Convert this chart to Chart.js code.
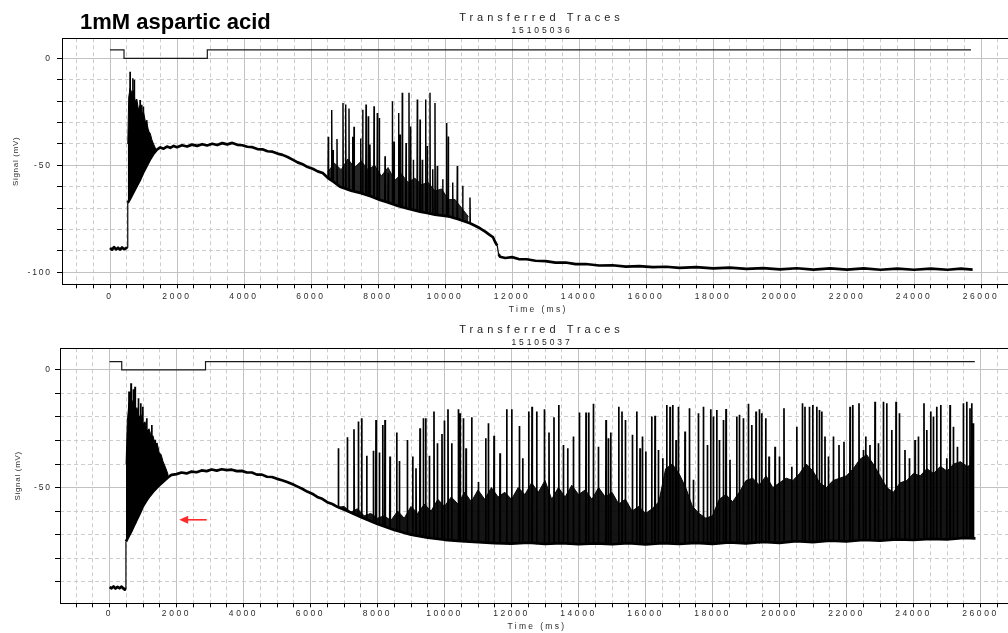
<!DOCTYPE html>
<html><head><meta charset="utf-8">
<script src="https://cdn.jsdelivr.net/npm/chart.js@4/dist/chart.umd.min.js"></script>
<style>
html,body{margin:0;padding:0;background:#fff;overflow:hidden;width:1008px;height:633px;}
#wrap{position:relative;width:1008px;height:633px;overflow:hidden;background:#fff;}
canvas{position:absolute;left:0;}
#cA{top:0;} #cB{top:320px;}
</style></head><body>
<div id="wrap"><canvas id="cA" width="1030" height="320"></canvas><canvas id="cB" width="1030" height="313"></canvas></div>
<script>
// ---------------- text ----------------
const MAIN_TITLE = '1mM aspartic acid';
const PANEL_TITLE = 'Transferred Traces';
const SWEEP_A = '15105036';
const SWEEP_B = '15105037';
const X_TITLE = 'Time (ms)';
const Y_TITLE = 'Signal (mV)';

// ---------------- tick labels ----------------
const xLabels = [0,2000,4000,6000,8000,10000,12000,14000,16000,18000,20000,22000,24000,26000];
const yLabelsA = [0,-50,-100];
const yLabelsB = [0,-50];

// ---------------- panel A (15105036) ----------------
const stimA_t = [0,418,418,2905,2905,25700];
const stimA_v = [4,4,0,0,4,4];

const slowA_t = [0,60,120,180,240,300,360,420,480,510,530,600,700,800,900,1000,1100,1200,1300,1400,1500,1600,1700,1800,1900,2000,2150,2300,2450,2600,2750,2900,3050,3200,3350,3500,3650,3800,3950,4100,4250,4400,4550,4700,4850,5000,5150,5300,5450,5600,5750,5900,6050,6200,6350,6500,6700,6866,7200,7500,7800,8060,8300,8600,8900,9254,9500,9700,10000,10149,10400,10746,10900,11045,11200,11343,11430,11493,11560,11600,11640,11800,12000,12200,12438,12700,13000,13300,13600,13900,14200,14600,15000,15400,15800,16200,16600,17000,17500,18000,18500,19000,19500,20000,20500,21000,21500,22000,22500,23000,23500,24000,24500,25000,25400,25750];
const slowA_v = [-88.6,-89.4,-88.2,-89.3,-88.5,-89.4,-88.4,-89.2,-88.7,-88.3,-67.5,-65.5,-62.5,-59.5,-56.5,-53,-50,-47,-44.5,-42.6,-41.6,-42.2,-41.2,-41.8,-40.9,-41.5,-40.6,-41.2,-40.3,-40.9,-40.1,-40.7,-39.9,-40.5,-39.6,-40.2,-39.5,-40.4,-40.6,-41.3,-41.5,-42.4,-42.5,-43.4,-43.6,-44.5,-45.1,-46.1,-47.3,-48.6,-49.5,-50.8,-51.6,-52.8,-53.6,-55.8,-58,-60,-61.8,-63,-64.5,-66.2,-67.3,-69,-70.3,-71.6,-72.4,-73,-73.6,-74,-75.2,-77.1,-78.2,-79.4,-81,-82.6,-83.5,-85.7,-87.5,-91.5,-92.7,-93.3,-92.9,-93.8,-93.9,-94.6,-94.8,-95.5,-95.4,-96.2,-96.1,-96.8,-96.7,-97.3,-97.1,-97.6,-97.4,-97.9,-97.6,-98.2,-97.8,-98.4,-98.0,-98.6,-98.1,-98.7,-98.2,-98.7,-98.2,-98.8,-98.3,-98.8,-98.3,-98.8,-98.3,-98.7];

const spkA_t = [597,677,726,796,896,945,995,1094,1144,1194,6516,6618,6657,6776,6955,7036,7134,7245,7284,7484,7543,7642,7710,7761,7881,7979,8039,8209,8307,8427,8478,8618,8657,8725,8836,8925,8976,9054,9173,9254,9322,9424,9472,9552,9633,9701,9770,9931,10051,10099,10230,10367,10528,10746];
const spkA_peak = [-6.2,-9.3,-10,-25.6,-19.4,-21.7,-22.5,-28.8,-33.4,-36.6,-36.6,-24.1,-42.8,-37.7,-20.8,-21.6,-23.4,-36.6,-31.9,-37.4,-24,-21.6,-27,-40.3,-22.4,-25.5,-27.9,-45.7,-53.5,-20,-38.8,-25.5,-35.6,-16.1,-39.5,-16.1,-31.8,-47.4,-19.2,-28.6,-47.4,-19.2,-41,-16.1,-51.8,-20.8,-50.3,-56.5,-30.2,-36.5,-58,-50.3,-59.5,-65];
const spkA_base = [-66,-63,-62,-60,-57,-55,-53,-50,-48,-47,-56,-57,-57.5,-59,-60.5,-61,-61.5,-62,-62,-63,-63,-63.5,-64,-64,-65,-65.5,-66,-66.5,-67,-68,-68,-69,-69,-69.5,-70,-70.5,-70.5,-71,-71.3,-71.6,-72,-72.2,-72.3,-72.5,-72.8,-73,-73.2,-73.5,-73.8,-74,-74.5,-75,-76,-77];

// upper edge of the dense black mass (filled down to the slow trace)
const bodyA1_t  = [530,560,600,650,700,750,800,850,900,950,1000,1050,1100,1150,1200,1250,1300,1370];
const bodyA1_hi = [-40,-18,-14,-16,-15,-20,-19,-24,-22,-26,-25,-29,-30,-34,-35,-38,-40,-42.5];
const bodyA2_t  = [6500,6700,6900,7100,7300,7500,7700,7900,8100,8300,8500,8700,8900,9100,9300,9500,9700,9900,10100,10300,10500,10700];
const bodyA2_hi = [-53,-49,-52,-47,-51,-48,-52,-50,-55,-51,-57,-54,-58,-56,-59,-58,-62,-61,-66,-66,-70,-74];

// ---------------- panel B (15105037) ----------------
const stimB_t = [0,365,365,2866,2866,25830];
const stimB_v = [3.5,3.5,0,0,3.5,3.5];

const slowB_t = [0,60,120,180,240,300,360,420,455,475,490,560,650,711,800,900,990,1100,1200,1300,1450,1600,1750,1850,2000,2150,2300,2450,2600,2750,2900,3050,3200,3350,3500,3650,3800,3950,4100,4250,4400,4550,4700,4850,5000,5150,5300,5450,5600,5750,5900,6050,6200,6350,6500,6650,6800,7100,7500,8000,8500,9000,9500,10000,10500,11000,11500,12000,12500,13000,13500,14000,14500,15000,15500,16000,16500,17000,17500,18000,18500,19000,19500,20000,20500,21000,21500,22000,22500,23000,23500,24000,24500,25000,25500,25850];
const slowB_v = [-92.3,-92.8,-92.0,-92.9,-92.2,-92.8,-92.1,-93.0,-93.4,-92.5,-73,-71,-68.5,-66.6,-64,-61,-58.1,-55.5,-53.5,-51.7,-49.5,-47.5,-45.6,-44.6,-44.3,-43.6,-44.0,-43.2,-43.5,-42.7,-43.0,-42.3,-42.8,-42.2,-42.6,-42.4,-43.0,-42.9,-43.6,-43.6,-44.5,-44.5,-45.4,-45.5,-46.3,-46.9,-47.6,-48.5,-49.5,-50.5,-51.7,-52.6,-54.0,-54.8,-56.2,-57.0,-58.2,-60,-62.5,-65.5,-68,-70,-71.3,-72.2,-72.8,-73.2,-73.6,-73.8,-73.4,-74.0,-73.6,-74.1,-73.7,-74.1,-73.6,-74.2,-73.6,-74.0,-73.5,-73.9,-73.3,-73.7,-73.1,-73.5,-72.8,-73.2,-72.6,-72.9,-72.3,-72.6,-72.0,-72.3,-71.8,-72.0,-71.4,-71.6];

const spkB_t = [513,582,642,711,761,861,930,990,1109,1259,1358,1458,1557,
 6831,7099,7298,7428,7527,7677,7876,7955,8055,8154,8224,8373,8572,8652,8890,9050,9149,9269,9368,9438,9547,9686,9786,9925,9995,10104,10214,10413,10463,10562,10642,10811,11010,11229,11308,11478,11657,11856,12005,12234,12333,12512,12612,12751,12980,13119,13268,13408,13547,13676,13846,14025,14224,14303,14443,14592,14821,14890,14960,15199,15298,15398,
 15607,15737,15836,15906,16005,16184,16284,16383,16513,16632,16732,16811,16911,16980,17179,17309,17428,17577,17727,17846,17945,18025,18125,18204,18324,18403,18522,18722,18801,18920,19070,19169,19299,19398,19468,19587,19687,19866,19995,20134,20363,20513,20682,20761,20891,20990,21110,21189,21259,21358,21458,21607,21776,21925,22105,22184,22373,22503,22572,22701,22851,22950,23100,23199,23348,23478,23577,23746,23876,24045,24144,24313,24393,24512,24592,24691,24811,24990,25090,25189,25308,25487,25587,25686,25736,25786];
const spkB_peak = [-32.6,-9.2,-5.7,-8.2,-7.1,-12,-14.2,-15.6,-20.5,-23.4,-29.7,-38.2,-40.4,
 -33.3,-28.6,-25.2,-21.9,-20.5,-36.5,-34.3,-21.3,-35.1,-23.4,-21.3,-36.8,-26.6,-38.7,-29.8,-36.8,-41.8,-24.8,-20.5,-20.5,-36.5,-17.7,-31.2,-27.2,-21.5,-16.7,-31.2,-16.7,-18.4,-20.5,-33.3,-20.1,-47.6,-29.0,-22.7,-28.0,-35.4,-16.7,-16.7,-23.8,-37.5,-17.7,-15.6,-17.7,-16.7,-26.6,-20.1,-14.9,-31.9,-33.3,-28.3,-18.1,-18.1,-18.1,-14.4,-32.6,-21.3,-29.0,-26.6,-15.6,-17.7,-21.3,
 -27.6,-17.7,-33.3,-28.3,-34.7,-19.8,-19.5,-34.0,-37.5,-14.9,-15.6,-14.9,-29.8,-15.6,-26.2,-16.3,-46.7,-18.4,-15.6,-31.9,-16.7,-19.8,-17.0,-29.8,-21.3,-16.6,-38.2,-19.8,-19.1,-20.5,-14.4,-23.4,-17.7,-16.7,-18.4,-20.5,-36.8,-32.6,-36.8,-16.3,-41.1,-24.1,-14.2,-15.6,-15.6,-14.9,-15.6,-17.0,-17.7,-28.3,-36.8,-28.3,-31.9,-30.5,-15.6,-14.9,-14.2,-34.0,-28.3,-31.9,-13.5,-31.2,-13.5,-14.2,-25.5,-13.5,-18.4,-34.0,-37.5,-29.8,-28.3,-14.2,-25.5,-17.7,-19.8,-15.6,-14.9,-37.5,-14.9,-24.1,-32.6,-14.2,-13.5,-16.3,-14.2,-22.7];
const spkB_base = [-72,-70,-68.5,-66.6,-65.5,-62,-60,-58,-55.5,-52.5,-51,-49.5,-48,
 -58.5,-60,-61,-62,-62.5,-63.5,-64.5,-65,-65.5,-66,-66.5,-67.5,-68.3,-68.6,-69.5,-70.2,-70.5,-70.9,-71.1,-71.2,-71.4,-71.7,-71.9,-72.1,-72.2,-72.3,-72.4,-72.7,-72.8,-72.9,-73,-73.1,-73.2,-73.4,-73.4,-73.6,-73.6,-73.7,-73.8,-73.6,-73.5,-73.4,-73.6,-73.8,-74,-73.9,-73.7,-73.6,-73.7,-73.9,-74,-74.1,-73.9,-73.8,-73.7,-73.8,-74,-74.1,-74.1,-73.9,-73.8,-73.7,
 -73.7,-73.8,-73.9,-74,-74.1,-74,-73.9,-73.8,-73.7,-73.6,-73.7,-73.8,-73.9,-74,-73.8,-73.7,-73.6,-73.5,-73.6,-73.7,-73.8,-73.9,-73.8,-73.7,-73.6,-73.5,-73.4,-73.5,-73.6,-73.5,-73.4,-73.3,-73.4,-73.5,-73.4,-73.3,-73.2,-73.3,-73.4,-73.2,-73.1,-73.0,-72.9,-73.0,-73.1,-73.1,-73.0,-72.9,-72.8,-72.8,-72.7,-72.7,-72.8,-72.7,-72.6,-72.5,-72.5,-72.4,-72.4,-72.3,-72.4,-72.3,-72.2,-72.1,-72.2,-72.1,-72.2,-72.3,-72.2,-72.1,-72.0,-72.0,-71.9,-71.9,-71.8,-71.9,-71.8,-71.9,-71.8,-71.7,-71.6,-71.5,-71.5,-71.4,-71.5,-71.6];

const bodyB1_t  = [495,530,580,640,700,760,820,880,940,1000,1060,1120,1180,1240,1300,1360,1420,1480,1540,1600,1660,1750];
const bodyB1_hi = [-40,-22,-14,-16,-13,-17,-16,-20,-19,-23,-22,-26,-25,-28,-28,-32,-31,-35,-36,-39,-41,-44.5];
const bodyB2_t  = [6800,7000,7200,7400,7600,7800,8000,8200,8400,8600,8800,9000,9200,9400,9600,9800,10000,10200,10400,10600,10800,11000,11200,11400,11600,11800,12000,12200,12400,12600,12800,13000,13200,13400,13600,13800,14000,14200,14400,14600,14800,15000,15200,15400,15600,15800,16000,16200,16400,16600,16800,17000,17200,17400,17600,17800,18000,18200,18400,18600,18800,19000,19200,19400,19600,19800,20000,20200,20400,20600,20800,21000,21200,21400,21600,21800,22000,22200,22400,22600,22800,23000,23200,23400,23600,23800,24000,24200,24400,24600,24800,25000,25200,25400,25600,25800];
const bodyB2_hi = [-58.5,-58,-60.5,-59,-62,-61,-63,
 -62,-64,-60,-63,-58,-61,-57,-60,-55,-58,
 -54,-57,-52,-56,-51,-55,-50,-54,-52,-55,
 -50,-53,-48,-52,-47,-55,-50,-54,-49,-53,
 -51,-55,-50,-54,-52,-57,-55,-60,-58,-61,
 -59,-56,-42,-40,-44,-50,-58,-61,-63,-62,
 -55,-53,-56,-52,-47,-46,-49,-45,-50,-48,
 -46,-47,-44,-40,-43,-48,-50,-47,-46,-45,
 -42,-38,-36,-40,-45,-50,-52,-48,-47,-44,
 -45,-42,-44,-41,-43,-40,-39,-41,-40];

// red arrow annotation (data units: ms, mV)
const arrowB = { fromX: 2900, toX: 2080, y: -63.7 };

// ---------------- helpers ----------------
const FONT = '"Liberation Sans", Arial, Helvetica, sans-serif';
Chart.defaults.font.family = FONT;
function zip(t, v) {
  if (t.length !== v.length) console.error('length mismatch', t.length, v.length);
  return t.map((x, i) => ({ x, y: v[i] }));
}
function spikes(t, peak, base, w) {
  if (t.length !== peak.length || t.length !== base.length) console.error('spike mismatch', t.length, peak.length, base.length);
  const out = [];
  t.forEach((x, i) => {
    out.push({ x: x - w, y: base[i] }, { x, y: peak[i] }, { x: x + w, y: base[i] }, { x: x + w, y: null });
  });
  return out;
}
function stepTicks(from, to, step) { const a = []; for (let v = from; v <= to + 1e-9; v += step) a.push(v); return a; }

const BaseLinear = Chart.LinearScale || Chart.registry.getScale('linear');
class SpacedLinear extends BaseLinear {
  _sp(kind, fn) {
    const c = this.ctx;
    const sp = this.options.spacing ? this.options.spacing[kind] : null;
    const has = ('letterSpacing' in c);
    const prev = has ? c.letterSpacing : null;
    if (has && sp) c.letterSpacing = sp;
    fn();
    if (has) c.letterSpacing = prev;
  }
  drawLabels(area) { this._sp('ticks', () => super.drawLabels(area)); }
  drawTitle() { this._sp('title', () => super.drawTitle()); }
}
SpacedLinear.id = 'spacedLinear';
SpacedLinear.defaults = BaseLinear.defaults;
Chart.register(SpacedLinear);

const textPlugin = {
  id: 'panelText',
  afterDraw(chart, args, o) {
    const ctx = chart.ctx;
    (o.items || []).forEach(it => {
      ctx.save();
      ctx.font = it.font; ctx.fillStyle = it.color; ctx.textAlign = it.align; ctx.textBaseline = 'alphabetic';
      if ('letterSpacing' in ctx) ctx.letterSpacing = it.spacing || '0px';
      ctx.fillText(it.text, it.x, it.y);
      ctx.restore();
    });
  }
};
const framePlugin = {
  id: 'frame',
  afterDraw(chart) {
    const { ctx, chartArea: a } = chart;
    const al = v => Math.round(v - 0.5) + 0.5;
    ctx.save();
    ctx.strokeStyle = '#000'; ctx.lineWidth = 1;
    const l = al(a.left), t = al(a.top), r = al(a.right), b = al(a.bottom);
    ctx.strokeRect(l, t, r - l, b - t);
    ctx.restore();
  }
};
const arrowPlugin = {
  id: 'redArrow',
  afterDatasetsDraw(chart, args, o) {
    if (!o || o.fromX === undefined) return;
    const { ctx, scales: { x, y } } = chart;
    const x0 = x.getPixelForValue(o.fromX), x1 = x.getPixelForValue(o.toX), yy = y.getPixelForValue(o.y);
    ctx.save();
    ctx.strokeStyle = '#ff2a2a'; ctx.fillStyle = '#ff2a2a'; ctx.lineWidth = 1.6;
    ctx.beginPath(); ctx.moveTo(x0, yy); ctx.lineTo(x1 + 7, yy); ctx.stroke();
    ctx.beginPath(); ctx.moveTo(x1, yy); ctx.lineTo(x1 + 9, yy - 4); ctx.lineTo(x1 + 9, yy + 4); ctx.closePath(); ctx.fill();
    ctx.restore();
  }
};

const flatWidth = (c) => {
  const dx = Math.abs(c.p1.x - c.p0.x), dy = Math.abs(c.p1.y - c.p0.y);
  return dy > dx * 2 + 3 ? 1.2 : 2.7;
};

function build(id, P) {
  const datasets = [];
  datasets.push({ data: zip(P.stim_t, P.stim_v), borderColor: '#1a1a1a', borderWidth: 1.2, fill: false });
  datasets.push({ data: zip(P.slow_t, P.slow_v), borderColor: '#000', borderWidth: 2.7, fill: false, borderJoinStyle: 'round', segment: { borderWidth: flatWidth } });
  datasets.push({ data: spikes(P.spk_t, P.spk_peak, P.spk_base, 9), borderColor: '#000', borderWidth: P.spikeWidth, fill: false, spanGaps: false, borderJoinStyle: 'bevel' });
  P.bodies.forEach(b => {
    datasets.push({ data: zip(b.t, b.hi), borderWidth: 1, borderColor: b.color, fill: { target: 1 }, backgroundColor: b.color });
  });

  const xl = P.xLabels, yl = P.yLabels;
  const gridColor = (labels) => (c) => (c.tick && labels.includes(c.tick.value)) ? '#c2c2c2' : '#cdcdcd';
  const gridDash = (labels) => (c) => (c.tick && !labels.includes(c.tick.value)) ? [4, 3] : [];

  return new Chart(document.getElementById(id), {
    type: 'line',
    data: { datasets },
    options: {
      responsive: false, animation: false, events: [], devicePixelRatio: 1,
      layout: { padding: { top: P.padTop, right: P.padRight, bottom: 0, left: 0 } },
      elements: { point: { radius: 0, hitRadius: 0 }, line: { tension: 0 } },
      plugins: {
        legend: { display: false }, tooltip: { enabled: false }, title: { display: false },
        panelText: { items: P.texts },
        redArrow: P.arrow || {}
      },
      scales: {
        x: {
          type: 'spacedLinear', min: P.xMin, max: P.xMax,
          spacing: { ticks: '2.6px', title: '2.35px' },
          afterFit: s => { s.height = P.xAxisH; },
          afterBuildTicks: s => { s.ticks = stepTicks(-1000, 26500, 500).map(v => ({ value: v })); },
          ticks: { autoSkip: false, maxRotation: 0, minRotation: 0, padding: P.xTickPad, color: '#2b2b2b',
                   font: { size: 8.5, family: FONT }, callback: v => xl.includes(v) ? String(v) : '' },
          grid: { color: gridColor(xl), lineWidth: 1, drawTicks: true, tickLength: 4, tickColor: '#000', tickWidth: 1, tickBorderDash: [] },
          border: { display: false, dash: gridDash(xl) },
          title: { display: true, text: X_TITLE, color: '#2b2b2b', font: { size: 8.5, family: FONT }, padding: { top: 0, bottom: P.xTitlePad } }
        },
        y: {
          type: 'spacedLinear', min: P.yMin, max: P.yMax,
          spacing: { ticks: '1.8px', title: '0.7px' },
          afterFit: s => { s.width = P.yAxisW; },
          afterBuildTicks: s => { s.ticks = stepTicks(P.yTickFrom, 0, 10).map(v => ({ value: v })); },
          ticks: { autoSkip: false, padding: P.yTickPad, color: '#2b2b2b',
                   font: { size: 8.5, family: FONT }, callback: v => yl.includes(v) ? String(v) : '' },
          grid: { color: gridColor(yl), lineWidth: 1, drawTicks: true, tickLength: 5, tickColor: '#000', tickWidth: 1, tickBorderDash: [] },
          border: { display: false, dash: gridDash(yl) },
          title: { display: true, text: Y_TITLE, color: '#2b2b2b', font: { size: 8, family: FONT }, padding: { top: P.yTitlePad, bottom: 0 } }
        }
      }
    },
    plugins: [textPlugin, framePlugin, arrowPlugin]
  });
}

build('cA', {
  stim_t: stimA_t, stim_v: stimA_v, slow_t: slowA_t, slow_v: slowA_v,
  spk_t: spkA_t, spk_peak: spkA_peak, spk_base: spkA_base, spikeWidth: 1.45,
  bodies: [{ t: bodyA1_t, hi: bodyA1_hi, color: '#000' }, { t: bodyA2_t, hi: bodyA2_hi, color: 'rgba(0,0,0,0.85)' }],
  xLabels: xLabels, yLabels: yLabelsA,
  xMin: -1433, xMax: 27000, yMin: -105.6, yMax: 9.4, yTickFrom: -100,
  padTop: 38.3, padRight: 15.5, xAxisH: 35.7, yAxisW: 62,
  xTickPad: 3, yTickPad: 5.2, xTitlePad: 5.6, yTitlePad: 10.7,
  texts: [
    { text: MAIN_TITLE, x: 80, y: 29.3, font: 'bold 22px ' + FONT, color: '#000', align: 'left', spacing: '0px' },
    { text: PANEL_TITLE, x: 541.5, y: 20.7, font: '11px ' + FONT, color: '#222', align: 'center', spacing: '4px' },
    { text: SWEEP_A, x: 542, y: 33.3, font: '8.5px ' + FONT, color: '#222', align: 'center', spacing: '2.9px' }
  ]
});

build('cB', {
  stim_t: stimB_t, stim_v: stimB_v, slow_t: slowB_t, slow_v: slowB_v,
  spk_t: spkB_t, spk_peak: spkB_peak, spk_base: spkB_base, spikeWidth: 1.7,
  bodies: [{ t: bodyB1_t, hi: bodyB1_hi, color: '#000' }, { t: bodyB2_t, hi: bodyB2_hi, color: 'rgba(0,0,0,0.92)' }],
  xLabels: xLabels, yLabels: yLabelsB,
  xMin: -1478, xMax: 27000, yMin: -99.2, yMax: 9.2, yTickFrom: -90,
  padTop: 28.3, padRight: 16, xAxisH: 29.7, yAxisW: 60,
  xTickPad: 1.4, yTickPad: 3.2, xTitlePad: 0.9, yTitlePad: 13.2,
  arrow: arrowB,
  texts: [
    { text: PANEL_TITLE, x: 541.5, y: 13, font: '11px ' + FONT, color: '#222', align: 'center', spacing: '4px' },
    { text: SWEEP_B, x: 542, y: 25, font: '8.5px ' + FONT, color: '#222', align: 'center', spacing: '2.9px' }
  ]
});
</script>
</body></html>
